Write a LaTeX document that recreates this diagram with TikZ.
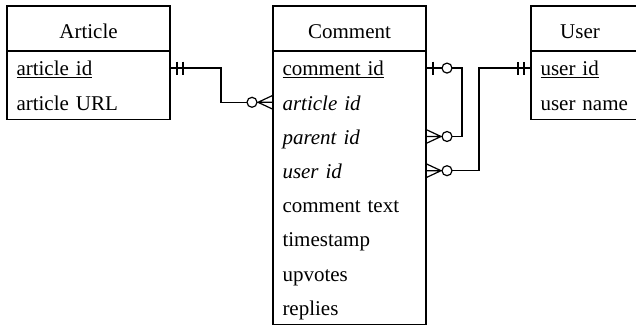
\documentclass[tikz,border=0pt]{standalone}
\usepackage{fontspec}
\setmainfont{Liberation Serif}
\usetikzlibrary{positioning}
\tikzset{
  header/.style={draw,line width=1.2pt,inner xsep=0pt,inner ysep=0pt,outer sep=0pt,
    text height=33pt,text depth=12pt,font=\fontsize{21}{25}\selectfont},
  attr/.style={inner xsep=9.5pt,inner ysep=0pt,outer sep=0pt,align=left,
    text height=25pt,text depth=9.2pt,font=\fontsize{21}{25}\selectfont},
  box/.style={draw,line width=1.2pt},
  relline/.style={draw,line width=1.2pt},
  onlyone/.pic={\draw[relline] (7,-6.5)--(7,6.5) (13,-6.5)--(13,6.5);},
  zeroone/.pic={\draw[relline] (7,-6.5)--(7,6.5);
    \draw[relline,fill=white] (21,0) circle (5pt);},
  zeromany/.pic={\draw[relline] (0,-7)--(15,0)--(0,7) (0,0)--(15,0);
    \draw[relline,fill=white] (21,0) circle (5pt);}
}
\begin{document}
\begin{tikzpicture}[x=1pt,y=-1pt,node distance=0pt]
  \useasboundingbox (0,0) rectangle (636,328);
  \clip (0,0) rectangle (636,328);
  % Article
  \node[header,minimum width=163pt,anchor=north west] (article) at (7,6) {Article};
  \node[attr,text width=144pt,below=of article] (art-id) {\underline{article id}};
  \node[attr,text width=144pt,below=of art-id] (art-url) {article URL};
  \draw[box] (article.north west) rectangle (art-url.south east);
  % Comment
  \node[header,minimum width=153pt,anchor=north west] (comment) at (273,6) {Comment};
  \node[attr,text width=134pt,below=of comment] (com-id) {\underline{comment id}};
  \node[attr,text width=134pt,below=of com-id] (com-art) {\textit{article id}};
  \node[attr,text width=134pt,below=of com-art] (com-parent) {\textit{parent id}};
  \node[attr,text width=134pt,below=of com-parent] (com-user) {\textit{user id}};
  \node[attr,text width=134pt,below=of com-user] (com-text) {comment text};
  \node[attr,text width=134pt,below=of com-text] (com-time) {timestamp};
  \node[attr,text width=134pt,below=of com-time] (com-votes) {upvotes};
  \node[attr,text width=134pt,below=of com-votes] (com-replies) {replies};
  \draw[box] (comment.north west) rectangle (com-replies.south east);
  % User (box runs past the right edge)
  \node[header,minimum width=112pt,anchor=north west] (user) at (531,6) {User\hspace*{14pt}};
  \node[attr,text width=93pt,below=of user] (user-id) {\underline{user id}};
  \node[attr,text width=93pt,below=of user-id] (user-name) {user name};
  \draw[box] (user.north west) rectangle (user-name.south east);
  % relations
  \draw[relline] (art-id.east) -- ++(51,0) |- (com-art.west);
  \draw[relline] (com-id.east) -- ++(36,0) |- (com-parent.east);
  \draw[relline] (user-id.west) -- ++(-52,0) |- (com-user.east);
  \pic at (art-id.east) {onlyone};
  \pic[rotate=180] at (com-art.west) {zeromany};
  \pic at (com-id.east) {zeroone};
  \pic at (com-parent.east) {zeromany};
  \pic at (com-user.east) {zeromany};
  \pic[rotate=180] at (user-id.west) {onlyone};
\end{tikzpicture}
\end{document}
